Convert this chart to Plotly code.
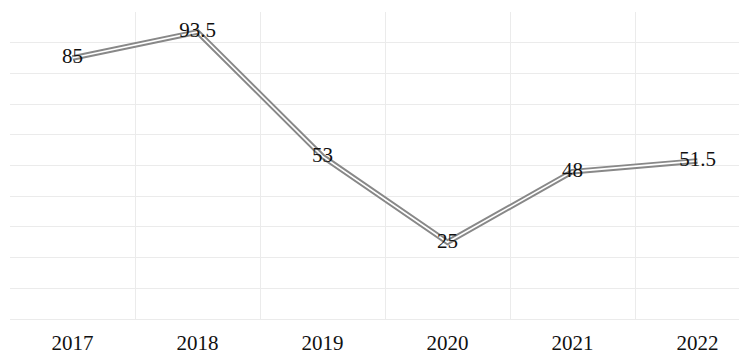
import plotly.graph_objects as go

years = ["2017", "2018", "2019", "2020", "2021", "2022"]
values = [85, 93.5, 53, 25, 48, 51.5]
labels = ["85", "93.5", "53", "25", "48", "51.5"]

fig = go.Figure()
fig.add_trace(go.Scatter(
    x=years, y=values, mode="lines",
    line=dict(color="#888888", width=5.5),
    hoverinfo="skip", showlegend=False,
))
fig.add_trace(go.Scatter(
    x=years, y=values, mode="lines+text",
    line=dict(color="#ffffff", width=1.6),
    text=labels, textposition="middle center",
    textfont=dict(family="Liberation Serif", size=21, color="#111111"),
    showlegend=False,
))

fig.update_layout(
    width=739, height=354,
    margin=dict(l=10, r=0, t=12, b=35),
    plot_bgcolor="white", paper_bgcolor="white",
    font=dict(family="Liberation Serif", size=21, color="#111111"),
)
fig.update_xaxes(
    type="category", tickson="boundaries",
    range=[-0.5, 5.332],
    showgrid=True, gridcolor="#ebebeb", gridwidth=1,
    ticks="", showline=False, zeroline=False,
    ticklabelstandoff=9,
    tickfont=dict(family="Liberation Serif", size=21, color="#111111"),
)
fig.update_yaxes(
    range=[0, 100], dtick=10,
    showgrid=True, gridcolor="#ebebeb", gridwidth=1,
    showticklabels=False, ticks="",
    zeroline=True, zerolinecolor="#ebebeb", zerolinewidth=1,
    showline=False,
)

fig.write_html("out.html")
